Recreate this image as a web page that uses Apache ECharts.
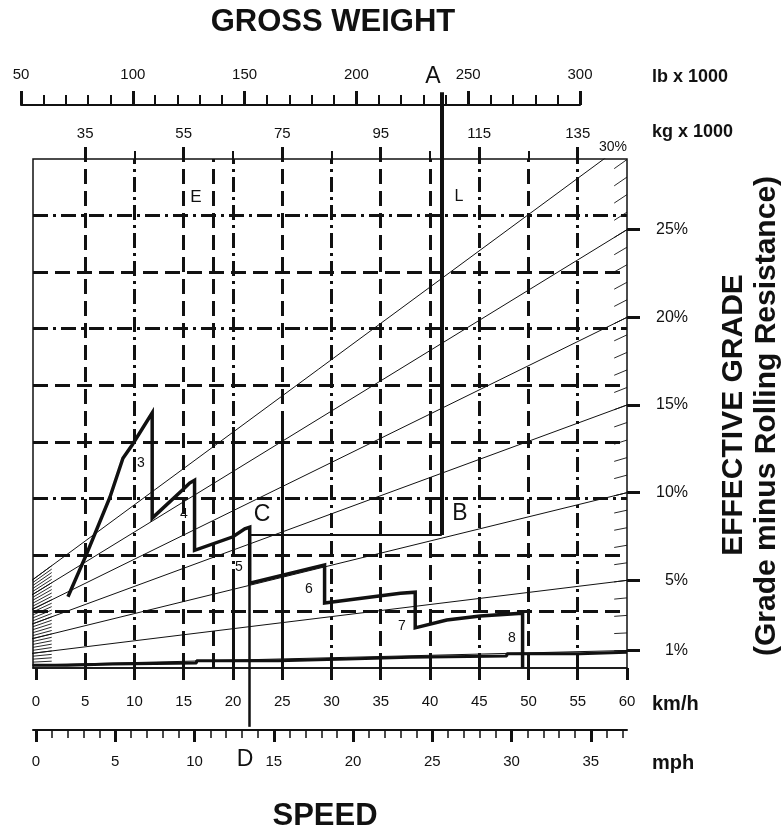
<!DOCTYPE html>
<html>
<head>
<meta charset="utf-8">
<script src="https://cdn.jsdelivr.net/npm/echarts@6/dist/echarts.min.js"></script>
<style>
  html, body { margin: 0; padding: 0; background: #fff; }
  #main { width: 784px; height: 829px; }
</style>
</head>
<body>
<div id="main"></div>
<script>
const myChart = echarts.init(document.querySelector('#main'))

// axis ticks
const kmhTicks = [0, 5, 10, 15, 20, 25, 30, 35, 40, 45, 50, 55, 60]
const mphMajor = [0, 5, 10, 15, 20, 25, 30, 35]
const mphMinor = [1, 2, 3, 4, 6, 7, 8, 9, 11, 12, 13, 14, 16, 17, 18, 19, 21, 22, 23, 24, 26, 27, 28, 29, 31, 32, 33, 34, 36, 37]
const kgLabels = [35, 55, 75, 95, 115, 135]
const kgMinor = [45, 65, 85, 105, 125]
const gradeTicks = [1, 5, 10, 15, 20, 25]
const gradeLines = [1, 5, 10, 15, 20, 25, 30]
const gradeHatch = [1, 2, 3, 4, 5, 6, 7, 8, 9, 10, 11, 12, 13, 14, 15, 16, 17, 18, 19, 20, 21, 22, 23, 24, 25, 26, 27, 28, 29, 30]

// dashed grid (km/h positions, rimpull divisions)
const speedGrid = [5, 10, 15, 18, 20, 25, 30, 35, 40, 45, 50, 55]
const pullGrid = [1, 2, 3, 4, 5, 6, 7, 8]

// rimpull curve per gear: speed km/h, rimpull in grid divisions
const gear3Speed = [3.25, 5.18, 7.51, 8.83, 9.75, 11.8, 11.8]
const gear3Pull = [1.26, 2.03, 3.02, 3.71, 3.94, 4.51, 2.65]
const gear4Speed = [11.8, 14.9, 15.6, 16.1, 16.1]
const gear4Pull = [2.65, 3.15, 3.27, 3.32, 2.08]
const gear5Speed = [16.1, 20.0, 21.2, 21.7, 21.7]
const gear5Pull = [2.08, 2.32, 2.46, 2.49, 1.50]
const gear6Speed = [21.7, 29.3, 29.3]
const gear6Pull = [1.50, 1.82, 1.15]
const gear7Speed = [29.3, 37.0, 38.5, 38.5]
const gear7Pull = [1.15, 1.32, 1.34, 0.71]
const gear8Speed = [38.5, 41.7, 45.1, 49.4, 49.4]
const gear8Pull = [0.71, 0.85, 0.92, 0.97, 0]

// low stepped line along the bottom
const lowSpeed = [-0.3, 3.15, 7.8, 16.3, 24.6, 31.6, 38.0, 47.8, 55.2, 60]
const lowPull = [0.05, 0.07, 0.09, 0.13, 0.16, 0.19, 0.21, 0.25, 0.28, 0.28]

// solid verticals
const solidSpeed = [20, 20, 25]
const solidTop = [4.26, 1.61, 4.33]
const solidBottom = [2.08, 0, 0]

// worked example
const loadedKg = 107.4
const pullB = 2.35
const speedC = 21.7

const kmhPerMph = 1.609344
const kgAt = s => 25 + 2 * s
const kmhAt = kg => (kg - 25) / 2
const gradePull = (g, s) => g * kgAt(s) / kgAt(60)

const ink = '#111'
const font = 'Liberation Sans'
const dash = [15, 7]
const dashDot = [15, 5, 3, 5]
const vDashDot = [10, 20, 30, 45, 55]
const hDashDot = [3, 6, 8]

const zip = (a, b) => a.map((v, i) => [v, b[i]])

const gridMarks = speedGrid.map(s => ({
  xAxis: s,
  lineStyle: { type: vDashDot.includes(s) ? dashDot : dash, width: 3, color: ink }
})).concat(pullGrid.map(p => ({
  yAxis: p,
  lineStyle: { type: hDashDot.includes(p) ? dashDot : dash, width: 3, color: ink }
})))

const series = [
  {
    type: 'line', data: [[0, 0]], symbol: 'none', lineStyle: { opacity: 0 }, silent: true, z: 1,
    markLine: { symbol: 'none', silent: true, label: { show: false }, animation: false, data: gridMarks }
  }
]

gradeLines.forEach(g => {
  series.push({
    type: 'line', yAxisIndex: 1, symbol: 'none', silent: true, z: 3, clip: true,
    data: [[kmhAt(0), 0], [60, g]],
    lineStyle: { width: 1, color: ink }
  })
})

const hatch = []
gradeHatch.forEach(g => {
  hatch.push({ coords: [[58.7, gradePull(g, 58.7)], [60, g]] })
  hatch.push({ coords: [[-0.3, gradePull(g, -0.3)], [1.6, gradePull(g, 1.6)]] })
})
series.push({
  type: 'lines', coordinateSystem: 'cartesian2d', yAxisIndex: 1, silent: true, z: 3,
  data: hatch, lineStyle: { width: 0.9, color: ink, opacity: 1, curveness: 0 }
})

series.push({
  type: 'lines', coordinateSystem: 'cartesian2d', silent: true, z: 4,
  data: solidSpeed.map((s, i) => ({ coords: [[s, solidTop[i]], [s, solidBottom[i]]] })),
  lineStyle: { width: 3, color: ink, opacity: 1, curveness: 0 }
})

const curve = [].concat(
  zip(gear3Speed, gear3Pull), zip(gear4Speed, gear4Pull), zip(gear5Speed, gear5Pull),
  zip(gear6Speed, gear6Pull), zip(gear7Speed, gear7Pull), zip(gear8Speed, gear8Pull)
)
series.push({
  type: 'line', data: curve, symbol: 'none', silent: true, z: 6,
  lineStyle: { width: 3.5, color: ink, join: 'miter' }
})
series.push({
  type: 'line', data: zip(lowSpeed, lowPull), step: 'end', symbol: 'none', silent: true, z: 6,
  lineStyle: { width: 3, color: ink }
})

// A -> B (loaded weight), B -> C, C -> D
series.push({
  type: 'lines', coordinateSystem: 'cartesian2d', xAxisIndex: 1, silent: true, z: 7, clip: false,
  data: [{ coords: [[loadedKg, 10.18], [loadedKg, pullB]] }],
  lineStyle: { width: 4, color: ink, opacity: 1, curveness: 0 }
})
series.push({
  type: 'lines', coordinateSystem: 'cartesian2d', silent: true, z: 7, clip: false,
  data: [
    { coords: [[speedC, pullB], [kmhAt(loadedKg), pullB]], lineStyle: { width: 2 } },
    { coords: [[speedC, 2.49], [speedC, -1.04]], lineStyle: { width: 2.5 } }
  ],
  lineStyle: { color: ink, opacity: 1, curveness: 0 }
})
// lb scale needs a series to live on
series.push({ type: 'line', xAxisIndex: 5, yAxisIndex: 2, data: [], symbol: 'none' })

const labelStyle = { color: ink, fontFamily: font, fontSize: 15 }

const option = {
  animation: false,
  grid: [
    { left: 33, right: 157, top: 159, bottom: 161, show: true, borderColor: ink, borderWidth: 1.5, outerBoundsMode: 'none' },
    { left: 21, right: 204, top: 105, height: 1, outerBoundsMode: 'none' }
  ],
  xAxis: [
    {
      type: 'value', gridIndex: 0, position: 'bottom', min: -0.3, max: 60,
      axisLine: { show: true, onZero: false, lineStyle: { color: ink, width: 1.5 } },
      axisTick: { customValues: kmhTicks, length: 12, lineStyle: { color: ink, width: 3 } },
      axisLabel: Object.assign({ customValues: kmhTicks, margin: 26 }, labelStyle),
      splitLine: { show: false }
    },
    {
      type: 'value', gridIndex: 0, position: 'top', min: kgAt(-0.3), max: kgAt(60),
      axisLine: { show: false, onZero: false },
      axisTick: { customValues: kgLabels, length: 12, lineStyle: { color: ink, width: 3 } },
      axisLabel: Object.assign({ customValues: kgLabels, margin: 18 }, labelStyle),
      splitLine: { show: false }
    },
    {
      type: 'value', gridIndex: 0, position: 'top', min: kgAt(-0.3), max: kgAt(60),
      axisLine: { show: false, onZero: false },
      axisTick: { customValues: kgMinor, length: 8, lineStyle: { color: ink, width: 2 } },
      axisLabel: { show: false },
      splitLine: { show: false }
    },
    {
      type: 'value', gridIndex: 0, position: 'bottom', offset: 62, min: -0.3, max: 60,
      axisLine: { show: true, onZero: false, lineStyle: { color: ink, width: 2 } },
      axisTick: { customValues: mphMajor.map(m => m * kmhPerMph), length: 12, lineStyle: { color: ink, width: 3 } },
      axisLabel: Object.assign({
        customValues: mphMajor.map(m => m * kmhPerMph), margin: 24,
        formatter: v => String(Math.round(v / kmhPerMph))
      }, labelStyle),
      splitLine: { show: false }
    },
    {
      type: 'value', gridIndex: 0, position: 'bottom', offset: 62, min: -0.3, max: 60,
      axisLine: { show: false, onZero: false },
      axisTick: { customValues: mphMinor.map(m => m * kmhPerMph), length: 8, lineStyle: { color: ink, width: 1.5 } },
      axisLabel: { show: false },
      splitLine: { show: false }
    },
    {
      type: 'value', gridIndex: 1, position: 'top', min: 50, max: 300, interval: 50,
      axisLine: { show: true, onZero: false, lineStyle: { color: ink, width: 2 } },
      axisTick: { length: 14, lineStyle: { color: ink, width: 3 } },
      minorTick: { show: true, splitNumber: 5, length: 10, lineStyle: { color: ink, width: 2 } },
      axisLabel: Object.assign({ margin: 23 }, labelStyle),
      splitLine: { show: false }
    }
  ],
  yAxis: [
    { type: 'value', gridIndex: 0, min: 0, max: 9, show: false, axisLine: { onZero: false } },
    {
      type: 'value', gridIndex: 0, position: 'right', min: 0, max: 29.03,
      axisLine: { show: false, onZero: false },
      axisTick: { customValues: gradeTicks, length: 13, lineStyle: { color: ink, width: 3 } },
      axisLabel: Object.assign({
        customValues: gradeTicks, margin: 61, align: 'right',
        formatter: '{value}%'
      }, labelStyle, { fontSize: 16 }),
      splitLine: { show: false }
    },
    { type: 'value', gridIndex: 1, min: 0, max: 1, show: false, axisLine: { onZero: false } }
  ],
  graphic: [],
  series: series
}

function txt(text, x, y, size, weight, align, rot) {
  return {
    type: 'text', x: x, y: y, rotation: rot || 0, silent: true, z: 100,
    style: {
      text: text, fill: ink,
      font: (weight || 'normal') + ' ' + size + 'px "' + font + '"',
      textAlign: align || 'center', textVerticalAlign: 'middle',
      align: align || 'center', verticalAlign: 'middle'
    }
  }
}

option.graphic = [
  txt('GROSS WEIGHT', 333, 22, 31, 'bold'),
  txt('SPEED', 325, 816, 31, 'bold'),
  txt('EFFECTIVE GRADE', 734, 415, 30, 'bold', 'center', Math.PI / 2),
  txt('(Grade minus Rolling Resistance)', 767, 416, 30, 'bold', 'center', Math.PI / 2),
  txt('lb x 1000', 652, 77, 18, 'bold', 'left'),
  txt('kg x 1000', 652, 132, 18, 'bold', 'left'),
  txt('km/h', 652, 704, 20, 'bold', 'left'),
  txt('mph', 652, 763, 20, 'bold', 'left'),
  txt('30%', 613, 147, 14),
  txt('A', 433, 77, 23),
  txt('B', 460, 514, 23),
  txt('C', 262, 515, 23),
  txt('D', 245, 760, 23),
  txt('E', 196, 197, 17),
  txt('L', 459, 197, 16),
  txt('3', 141, 463, 14),
  txt('4', 184, 514, 14),
  txt('5', 239, 567, 14),
  txt('6', 309, 589, 14),
  txt('7', 402, 626, 14),
  txt('8', 512, 638, 14)
]

option && myChart.setOption(option)
</script>
</body>
</html>
